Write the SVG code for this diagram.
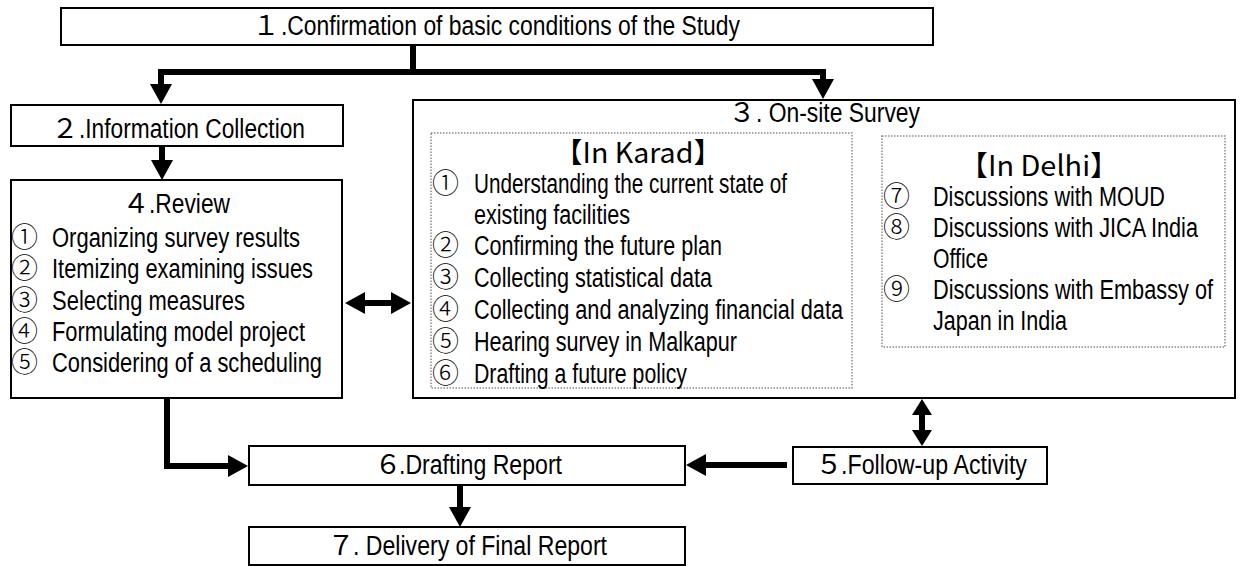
<svg xmlns="http://www.w3.org/2000/svg" width="1243" height="566" viewBox="0 0 1243 566">
  <style>
    .box { fill: #fff; stroke: #000; stroke-width: 2; }
    .dot { fill: none; stroke: #8a8a8a; stroke-width: 1.5; stroke-dasharray: 1.5 1.5; }
    .t { font-family: "Liberation Sans", Arial, sans-serif; font-size: 27px; fill: #000; }
    .n { font-family: "Noto Sans CJK JP", "Liberation Sans", sans-serif; font-size: 27px; fill: #000; text-anchor: middle; }
    .c { font-family: "Noto Sans CJK JP", "DejaVu Sans", sans-serif; font-size: 27px; font-weight: 300; fill: #000; }
    .h { font-family: "Noto Sans CJK JP", "Liberation Sans", sans-serif; font-size: 28px; fill: #000; text-anchor: middle; }
    .conn { fill: none; stroke: #000; stroke-width: 6; stroke-linejoin: miter; }
  </style>
  <defs>
    <marker id="head" viewBox="0 0 20 22" markerUnits="userSpaceOnUse" markerWidth="20" markerHeight="22" refX="1" refY="11" orient="auto-start-reverse">
      <path d="M0,0 L20,11 L0,22 Z" fill="#000"/>
    </marker>
    <marker id="headS" viewBox="0 0 16 20" markerUnits="userSpaceOnUse" markerWidth="16" markerHeight="20" refX="1" refY="10" orient="auto-start-reverse">
      <path d="M0,0 L16,10 L0,20 Z" fill="#000"/>
    </marker>
  </defs>

  <!-- 1. Confirmation of basic conditions -->
  <g id="node1">
    <rect class="box" x="61" y="8" width="872" height="37"/>
    <text class="n" x="266" y="35">１</text>
    <text class="t" x="281" y="35" textLength="459" lengthAdjust="spacingAndGlyphs">.Confirmation of basic conditions of the Study</text>
  </g>

  <!-- 2. Information Collection -->
  <g id="node2">
    <rect class="box" x="11" y="105" width="332" height="41"/>
    <text class="n" x="65" y="138">２</text>
    <text class="t" x="79" y="138" textLength="226" lengthAdjust="spacingAndGlyphs">.Information Collection</text>
  </g>

  <!-- 3. On-site Survey, with the Karad and Delhi groups -->
  <g id="node3">
    <rect class="box" x="413" y="100" width="822" height="298"/>
    <text class="n" x="742" y="122">３</text>
    <text class="t" x="756" y="122" textLength="164" lengthAdjust="spacingAndGlyphs">. On-site Survey</text>

    <g id="karad">
      <rect class="dot" x="431" y="133" width="421" height="255"/>
      <text class="h" x="638" y="163" textLength="168" lengthAdjust="spacingAndGlyphs">【In Karad】</text>
      <text class="c" x="432" y="193">①</text>
      <text class="t" x="474" y="193" textLength="313" lengthAdjust="spacingAndGlyphs">Understanding the current state of</text>
      <text class="t" x="474" y="224" textLength="156" lengthAdjust="spacingAndGlyphs">existing facilities</text>
      <text class="c" x="432" y="255">②</text>
      <text class="t" x="474" y="255" textLength="248" lengthAdjust="spacingAndGlyphs">Confirming the future plan</text>
      <text class="c" x="432" y="287">③</text>
      <text class="t" x="474" y="287" textLength="238" lengthAdjust="spacingAndGlyphs">Collecting statistical data</text>
      <text class="c" x="432" y="319">④</text>
      <text class="t" x="474" y="319" textLength="369" lengthAdjust="spacingAndGlyphs">Collecting and analyzing financial data</text>
      <text class="c" x="432" y="351">⑤</text>
      <text class="t" x="474" y="351" textLength="263" lengthAdjust="spacingAndGlyphs">Hearing survey in Malkapur</text>
      <text class="c" x="432" y="383">⑥</text>
      <text class="t" x="474" y="383" textLength="213" lengthAdjust="spacingAndGlyphs">Drafting a future policy</text>
    </g>

    <g id="delhi">
      <rect class="dot" x="882" y="136" width="343" height="211"/>
      <text class="h" x="1039" y="176" textLength="160" lengthAdjust="spacingAndGlyphs">【In Delhi】</text>
      <text class="c" x="883" y="206">⑦</text>
      <text class="t" x="933" y="206" textLength="232" lengthAdjust="spacingAndGlyphs">Discussions with MOUD</text>
      <text class="c" x="883" y="237">⑧</text>
      <text class="t" x="933" y="237" textLength="265" lengthAdjust="spacingAndGlyphs">Discussions with JICA India</text>
      <text class="t" x="933" y="268" textLength="55" lengthAdjust="spacingAndGlyphs">Office</text>
      <text class="c" x="883" y="299">⑨</text>
      <text class="t" x="933" y="299" textLength="280" lengthAdjust="spacingAndGlyphs">Discussions with Embassy of</text>
      <text class="t" x="933" y="330" textLength="134" lengthAdjust="spacingAndGlyphs">Japan in India</text>
    </g>
  </g>

  <!-- 4. Review -->
  <g id="node4">
    <rect class="box" x="11" y="180" width="331" height="218"/>
    <text class="n" x="136" y="213">４</text>
    <text class="t" x="149" y="213" textLength="81" lengthAdjust="spacingAndGlyphs">.Review</text>
    <text class="c" x="11" y="247">①</text>
    <text class="t" x="52" y="247" textLength="248" lengthAdjust="spacingAndGlyphs">Organizing survey results</text>
    <text class="c" x="11" y="278">②</text>
    <text class="t" x="52" y="278" textLength="261" lengthAdjust="spacingAndGlyphs">Itemizing examining issues</text>
    <text class="c" x="11" y="310">③</text>
    <text class="t" x="52" y="310" textLength="193" lengthAdjust="spacingAndGlyphs">Selecting measures</text>
    <text class="c" x="11" y="341">④</text>
    <text class="t" x="52" y="341" textLength="253" lengthAdjust="spacingAndGlyphs">Formulating model project</text>
    <text class="c" x="11" y="372">⑤</text>
    <text class="t" x="52" y="372" textLength="270" lengthAdjust="spacingAndGlyphs">Considering of a scheduling</text>
  </g>

  <!-- 5. Follow-up Activity -->
  <g id="node5">
    <rect class="box" x="793" y="447" width="254" height="37"/>
    <text class="n" x="829" y="474">５</text>
    <text class="t" x="841" y="474" textLength="186" lengthAdjust="spacingAndGlyphs">.Follow-up Activity</text>
  </g>

  <!-- 6. Drafting Report -->
  <g id="node6">
    <rect class="box" x="249" y="446" width="436" height="39"/>
    <text class="n" x="388" y="474">６</text>
    <text class="t" x="399" y="474" textLength="163" lengthAdjust="spacingAndGlyphs">.Drafting Report</text>
  </g>

  <!-- 7. Delivery of Final Report -->
  <g id="node7">
    <rect class="box" x="249" y="527" width="436" height="38"/>
    <text class="n" x="341" y="555">７</text>
    <text class="t" x="353" y="555" textLength="254" lengthAdjust="spacingAndGlyphs">. Delivery of Final Report</text>
  </g>

  <!-- connectors -->
  <g id="connectors">
    <path class="conn" d="M413,45 V72"/>
    <path class="conn" d="M161,85 V72 H823 V80" marker-start="url(#head)" marker-end="url(#head)"/>
    <path class="conn" d="M162,146 V161" marker-end="url(#head)"/>
    <path class="conn" d="M364,303 H392" marker-start="url(#head)" marker-end="url(#head)"/>
    <path class="conn" d="M167,399 V466 H229" marker-end="url(#head)"/>
    <path class="conn" d="M922,414 V431" marker-start="url(#headS)" marker-end="url(#headS)"/>
    <path class="conn" d="M787,465 H705" marker-end="url(#head)"/>
    <path class="conn" d="M460,485 V508" marker-end="url(#head)"/>
  </g>
</svg>
